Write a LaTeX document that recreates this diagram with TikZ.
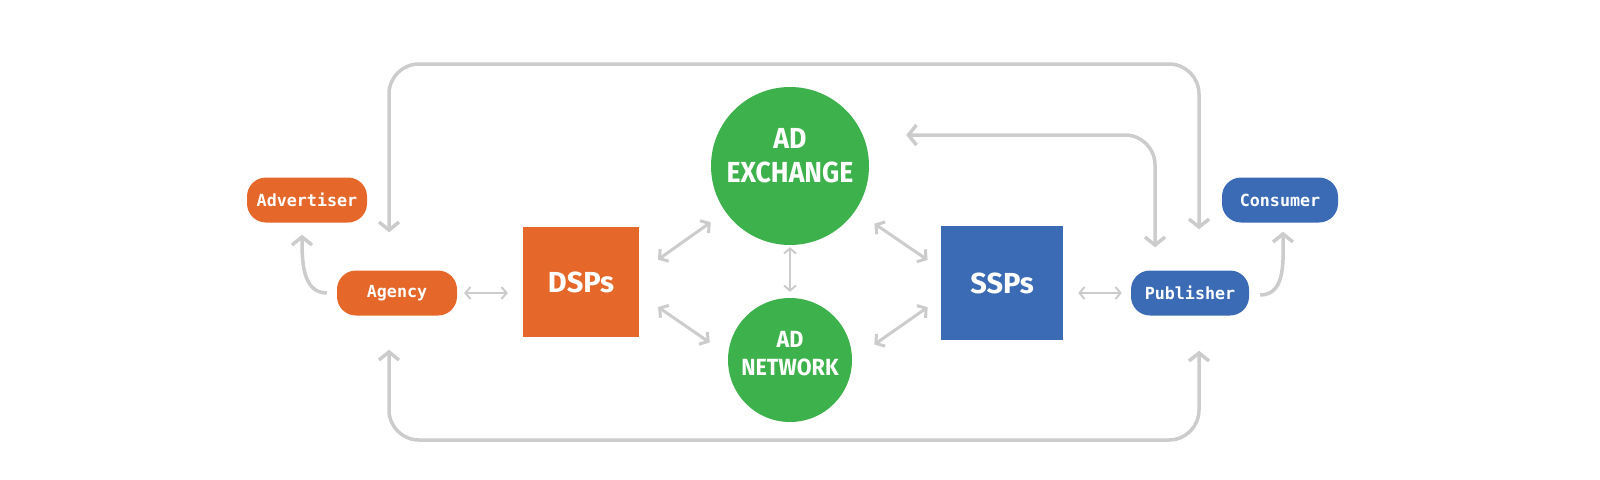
\documentclass[tikz,border=0pt]{standalone}
\usepackage{fontspec}
\setmainfont{Fira Sans}
\newfontfamily\labelfont{DejaVu Sans Mono}
\newfontfamily\hubfont{Fira Sans}[FakeStretch=0.92]
\usetikzlibrary{arrows.meta,calc}
\definecolor{adorange}{HTML}{E5672A}
\definecolor{adgreen}{HTML}{3DB14B}
\definecolor{adblue}{HTML}{3A6BB4}
\definecolor{linkgray}{HTML}{CCCCCC}
\tikzset{
  pill/.style={rounded corners=19pt, minimum width=120pt, minimum height=45pt, inner sep=0pt,
    text=white, font=\labelfont\bfseries\fontsize{16.7}{18}\selectfont},
  platform/.style={minimum width=116pt, minimum height=110pt, inner sep=0pt,
    text=white, font=\bfseries\fontsize{29}{34}\selectfont},
  hub/.style={circle, fill=adgreen, inner sep=0pt},
  hubtext/.style={align=center, text=white, inner sep=0pt},
  bigloop/.style={draw=linkgray, line width=3.5pt, rounded corners=30pt,
    {Straight Barb[length=8pt,width=20pt]}-{Straight Barb[length=8pt,width=20pt]}},
  curvelink/.style={draw=linkgray, line width=3.5pt,
    -{Straight Barb[length=8pt,width=20pt]}},
  link/.style={draw=linkgray, line width=3pt,
    {Straight Barb[length=6pt,width=15pt]}-{Straight Barb[length=6pt,width=15pt]}},
  thinlink/.style={draw=linkgray, line width=2pt,
    {Straight Barb[length=5pt,width=12pt]}-{Straight Barb[length=5pt,width=12pt]}},
}
\begin{document}
\begin{tikzpicture}[x=1pt, y=-1pt]
  \useasboundingbox (0,0) rectangle (1600,479);
  \node[pill, fill=adorange] (Adv) at (307,200) {Advertiser};
  \node[pill, fill=adorange] (Agency) at (397,293) {Agency};
  \node[platform, fill=adorange] (DSP) at (581,282) {DSPs};
  \node[hub, minimum size=158pt] (AdEx) at (790,166) {};
  \node[hubtext, font=\hubfont\bfseries\fontsize{29}{34}\selectfont] (AdExText) at ($(AdEx.center)+(0,-10)$) {AD\\EXCHANGE};
  \node[hub, minimum size=124pt] (AdNet) at (790,360) {};
  \node[hubtext, font=\hubfont\bfseries\fontsize{23.4}{28}\selectfont] (AdNetText) at ($(AdNet.center)+(0,-6)$) {AD\\NETWORK};
  \node[platform, fill=adblue, minimum width=122pt, minimum height=114pt] (SSP) at (1002,283) {SSPs};
  \node[pill, fill=adblue, minimum width=118pt] (Pub) at (1190,293) {Publisher};
  \node[pill, fill=adblue, minimum width=116pt] (Con) at (1280,200) {Consumer};
  % outer loops
  \draw[bigloop] ($(Agency.north)+(-8,-38)$) |- (790,64) -| ($(Pub.north)+(9,-41)$);
  \draw[bigloop] ($(AdEx.east)+(37,-31)$) -| ($(Pub.north)+(-35,-23)$);
  \draw[bigloop] ($(Agency.south)+(-8,34)$) |- (790,440) -| ($(Pub.south)+(9,35)$);
  \draw[curvelink] ($(Agency.west)+(-10,0)$) to[out=180, in=-90] ($(Adv.south)+(-5,12)$);
  \draw[curvelink] ($(Pub.east)+(11,2)$) to[out=0, in=-90] ($(Con.south)+(3,9)$);
  % short links
  \draw[thinlink, shorten <=7pt, shorten >=15pt] (Agency.east) -- (Agency.east -| DSP.west);
  \draw[thinlink, shorten <=15pt, shorten >=9pt] (SSP.east |- Pub.west) -- (Pub.west);
  \draw[link, shorten <=23pt, shorten >=18pt] ($(DSP.east)+(0,-9)$) -- (AdEx);
  \draw[link, shorten <=23pt, shorten >=22pt] ($(DSP.east)+(0,12)$) -- ($(AdNet.west)+(0,-5)$);
  \draw[link, shorten <=16pt, shorten >=23pt] ($(SSP.west)+(0,-14)$) -- (AdEx);
  \draw[link, shorten <=16pt, shorten >=27pt] ($(SSP.west)+(0,15)$) -- (AdNet.east);
  \draw[thinlink, shorten <=2pt, shorten >=6pt] (AdEx) -- (AdNet);
\end{tikzpicture}
\end{document}
